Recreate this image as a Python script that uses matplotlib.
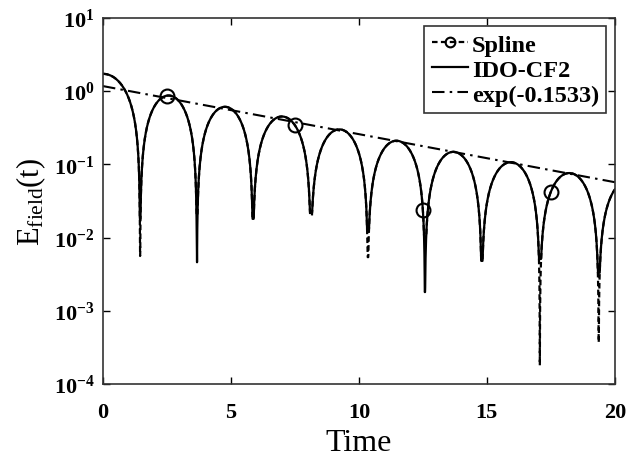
import numpy as np
import matplotlib
matplotlib.use("Agg")
import matplotlib.pyplot as plt
from matplotlib.lines import Line2D

plt.rcParams['font.family'] = ['Liberation Serif', 'DejaVu Serif']
plt.rcParams['mathtext.fontset'] = 'custom'
plt.rcParams['mathtext.rm'] = 'Liberation Serif'
plt.rcParams['mathtext.it'] = 'Liberation Serif:italic'
plt.rcParams['mathtext.bf'] = 'Liberation Serif:bold'

# ---- data ----
# lobe boundaries (times of the dips); first and last are virtual (outside 0..20)
dip_t = [-1.45, 1.45, 3.67, 5.86, 8.12, 10.35, 12.58, 14.80, 17.07, 19.37, 21.58]
# lobe peak amplitudes (one per lobe)
lobe_peak = [1.72, 0.87, 0.61, 0.45, 0.30, 0.21, 0.148, 0.107, 0.076, 0.058]
# depth of each real dip (t = 1.45 ... 19.37)
dip_ido = [0.018, 0.0046, 0.018, 0.022, 0.013, 0.0018, 0.0048, 0.0051, 0.0033]
dip_spline = [0.0056, 0.020, 0.018, 0.020, 0.0054, 0.010, 0.0048, 0.00018, 0.00037]
# spline marker times
marker_t = [2.5, 7.5, 12.5, 17.5]
# fitted exponential line end points
exp_t = [0.0, 20.0]
exp_v = [1.17, 0.057]


def build_curve(dips):
    t = np.linspace(0, 20, 4001)
    real_dips = np.array(dip_t[1:-1])
    t = np.unique(np.concatenate([t, real_dips]))
    v = np.zeros_like(t)
    for i in range(len(lobe_peak)):
        a, b = dip_t[i], dip_t[i + 1]
        m = (t >= a) & (t <= b)
        v[m] = lobe_peak[i] * np.abs(np.sin(np.pi * (t[m] - a) / (b - a)))
    # floor at the dip depth around each dip
    idx = np.argmin(np.abs(t[:, None] - real_dips[None, :]), axis=1)
    floor = np.array(dips)[idx]
    v = np.maximum(v, floor)
    return t, v


t_ido, v_ido = build_curve(dip_ido)
t_sp, v_sp = build_curve(dip_spline)
mk_idx = [int(np.argmin(np.abs(t_sp - mt))) for mt in marker_t]

fig = plt.figure(figsize=(6.28, 4.60), dpi=100)
ax = fig.add_axes([0.164, 0.163, 0.815, 0.796])

lw = 1.6
sp_ls = (0, (2.5, 1.5))
exp_ls = (0, (6, 2.5, 1.2, 2.5))
ax.plot(t_ido, v_ido, color='black', lw=lw, ls='-')
ax.plot(t_sp, v_sp, color='black', lw=lw, ls=sp_ls,
        marker='o', markevery=mk_idx, markersize=10, markerfacecolor='none',
        markeredgecolor='black', markeredgewidth=1.5)
ax.plot(exp_t, exp_v, color='black', lw=1.5, ls=exp_ls)

ax.set_yscale('log')
ax.set_xlim(0, 20)
ax.set_ylim(1e-4, 1e1)
ax.set_xticks([0, 5, 10, 15, 20])
ax.set_yticks([1e-4, 1e-3, 1e-2, 1e-1, 1e0, 1e1])
ax.yaxis.set_minor_locator(matplotlib.ticker.NullLocator())
ax.set_yticklabels([r'$\mathbf{10^{%d}}$' % e for e in [-4, -3, -2, -1, 0, 1]])
ax.set_xticklabels(['0', '5', '10', '15', '20'], fontweight='bold')
ax.tick_params(which='major', direction='in', top=True, right=True,
               length=5, width=1.0, labelsize=16, colors='black')
ax.tick_params(axis='x', pad=13)
ax.tick_params(axis='y', pad=6)
for s in ax.spines.values():
    s.set_linewidth(1.2)
    s.set_color('#333333')

ax.set_xlabel('Time', fontsize=23, labelpad=4)
ax.set_ylabel(r'$\mathrm{E_{field}(t)}$', fontsize=22, labelpad=4)

handles = [
    Line2D([], [], color='black', lw=lw, ls=sp_ls, marker='o',
           markersize=7, markerfacecolor='none', markeredgewidth=1.5),
    Line2D([], [], color='black', lw=lw, ls='-'),
    Line2D([], [], color='black', lw=1.5, ls=exp_ls),
]
leg = ax.legend(handles, ['Spline', 'IDO-CF2', 'exp(-0.1533)'],
                loc='upper right', fancybox=False, framealpha=1,
                edgecolor='#333333', prop={'weight': 'bold', 'size': 17.5},
                handlelength=1.5, handletextpad=0.15, borderpad=0.3,
                labelspacing=0.12, borderaxespad=0.35)
leg.get_frame().set_linewidth(1.2)

fig.savefig('out.png', dpi=100)
